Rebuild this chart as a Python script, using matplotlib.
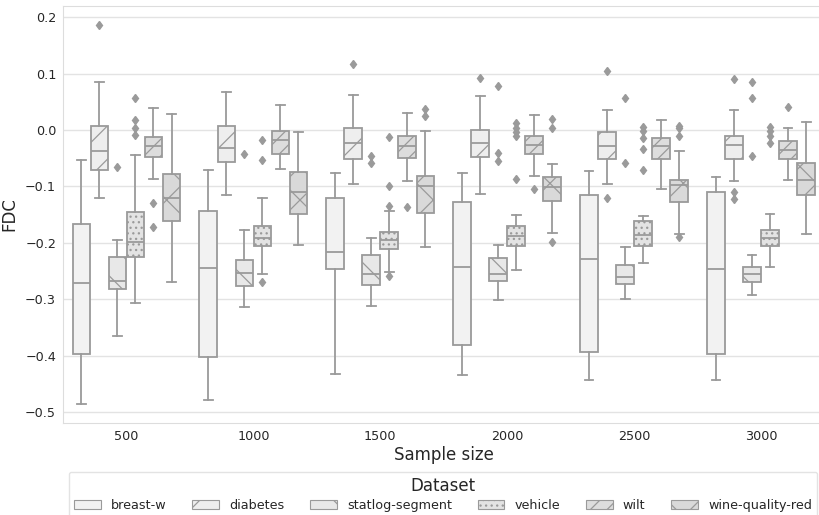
import numpy as np
import matplotlib
matplotlib.use("Agg")
import matplotlib.pyplot as plt
from matplotlib.patches import Patch
from matplotlib.ticker import MultipleLocator

# Box statistics, one row per sample size:
# whisker low, Q1, median, Q3, whisker high
sizes = [500, 1000, 1500, 2000, 2500, 3000]
datasets = ["breast-w", "diabetes", "statlog-segment", "vehicle", "wilt", "wine-quality-red"]

breast_w = [
    [-0.486, -0.397, -0.271, -0.166, -0.053],
    [-0.478, -0.402, -0.244, -0.143, -0.071],
    [-0.432, -0.247, -0.216, -0.120, -0.077],
    [-0.434, -0.381, -0.243, -0.128, -0.077],
    [-0.444, -0.393, -0.228, -0.115, -0.073],
    [-0.443, -0.397, -0.246, -0.109, -0.084],
]
breast_w_out = [[], [], [], [], [], []]

diabetes = [
    [-0.120, -0.071, -0.037, 0.007, 0.085],
    [-0.115, -0.057, -0.032, 0.007, 0.068],
    [-0.095, -0.052, -0.023, 0.003, 0.063],
    [-0.114, -0.047, -0.023, 0.000, 0.060],
    [-0.095, -0.051, -0.029, -0.004, 0.036],
    [-0.091, -0.051, -0.027, -0.010, 0.035],
]
diabetes_out = [[0.186], [], [0.117], [0.093], [0.105, -0.121], [0.090, -0.110, -0.122]]

statlog = [
    [-0.365, -0.282, -0.267, -0.225, -0.195],
    [-0.314, -0.276, -0.254, -0.231, -0.177],
    [-0.312, -0.275, -0.255, -0.221, -0.191],
    [-0.302, -0.267, -0.255, -0.227, -0.203],
    [-0.300, -0.273, -0.260, -0.239, -0.208],
    [-0.293, -0.270, -0.255, -0.243, -0.221],
]
statlog_out = [[-0.066], [-0.043], [-0.046, -0.059], [0.079, -0.041, -0.055],
               [0.057, -0.059], [0.085, 0.057, -0.046]]

vehicle = [
    [-0.307, -0.225, -0.198, -0.146, -0.045],
    [-0.255, -0.205, -0.192, -0.170, -0.120],
    [-0.251, -0.211, -0.195, -0.180, -0.143],
    [-0.249, -0.206, -0.187, -0.170, -0.150],
    [-0.235, -0.205, -0.186, -0.161, -0.153],
    [-0.243, -0.206, -0.191, -0.177, -0.149],
]
vehicle_out = [[0.057, 0.018, 0.004, -0.009], [-0.017, -0.053, -0.270],
               [-0.012, -0.100, -0.134, -0.258], [0.012, 0.004, -0.004, -0.011, -0.086],
               [0.005, -0.001, -0.014, -0.033, -0.071], [0.006, -0.001, -0.010, -0.023]]

wilt = [
    [-0.087, -0.048, -0.029, -0.012, 0.040],
    [-0.069, -0.042, -0.017, -0.001, 0.045],
    [-0.090, -0.049, -0.029, -0.011, 0.031],
    [-0.082, -0.042, -0.027, -0.011, 0.026],
    [-0.104, -0.052, -0.029, -0.014, 0.017],
    [-0.089, -0.052, -0.035, -0.019, 0.003],
]
wilt_out = [[-0.130, -0.172], [], [-0.136], [-0.104], [], [0.041]]

wine = [
    [-0.270, -0.161, -0.121, -0.078, 0.029],
    [-0.203, -0.149, -0.110, -0.074, -0.004],
    [-0.208, -0.147, -0.100, -0.081, -0.002],
    [-0.182, -0.126, -0.101, -0.084, -0.061],
    [-0.185, -0.128, -0.098, -0.088, -0.037],
    [-0.185, -0.115, -0.088, -0.059, 0.015],
]
wine_out = [[], [], [0.037, 0.025], [0.020, 0.003, -0.199], [0.007, 0.003, -0.010, -0.190], []]

all_stats = [breast_w, diabetes, statlog, vehicle, wilt, wine]
all_out = [breast_w_out, diabetes_out, statlog_out, vehicle_out, wilt_out, wine_out]

colors = ["#f2f2f2", "#eeeeee", "#e8e8e8", "#e3e3e3", "#dddddd", "#d9d9d9"]
hatches = ["", "/", "\\", "...", "//", "x"]
gray = "#9a9a9a"

plt.rcParams["hatch.linewidth"] = 0.9

fig = plt.figure(figsize=(8.2, 5.15), dpi=100)
ax = fig.add_axes([63 / 820, 1 - 423 / 515, (824.5 - 63) / 820, (423 - 6) / 515])

step = 0.142
for j in range(len(datasets)):
    stats = []
    for i in range(len(sizes)):
        lo, q1, med, q3, hi = all_stats[j][i]
        stats.append(dict(whislo=lo, q1=q1, med=med, q3=q3, whishi=hi, fliers=all_out[j][i]))
    pos = np.arange(len(sizes)) + (j - 2.5) * step
    bp = ax.bxp(stats, positions=pos, widths=step * 0.98, patch_artist=True,
                manage_ticks=False,
                boxprops=dict(facecolor=colors[j], edgecolor=gray, linewidth=1.3, hatch=hatches[j]),
                whiskerprops=dict(color=gray, linewidth=1.3),
                capprops=dict(color=gray, linewidth=1.3),
                medianprops=dict(color=gray, linewidth=1.3),
                flierprops=dict(marker="d", markerfacecolor=gray, markeredgecolor=gray,
                                markersize=4.5, linestyle="none"))

ax.set_xlim(-0.5, 5.5)
ax.set_ylim(-0.5195, 0.220)
ax.set_xticks(range(len(sizes)))
ax.set_xticklabels([str(s) for s in sizes])
ax.yaxis.set_major_locator(MultipleLocator(0.1))
ax.tick_params(length=0, labelsize=9.2, colors="#262626", pad=5)
ax.yaxis.grid(True, color="#e3e3e3", linewidth=1)
ax.set_axisbelow(True)
for sp in ax.spines.values():
    sp.set_color("#dddddd")
ax.set_xlabel("Sample size", fontsize=12, color="#262626", labelpad=2)
ax.set_ylabel("FDC", fontsize=12, color="#262626", labelpad=5)

handles = [Patch(facecolor=colors[j], edgecolor=gray, hatch=hatches[j], linewidth=0.8,
                 label=datasets[j]) for j in range(len(datasets))]
leg = fig.legend(handles=handles, loc="upper center", bbox_to_anchor=(443 / 820, 1 - 471.7 / 515),
                 ncol=6, title="Dataset", fontsize=9.2, title_fontsize=12, frameon=True,
                 borderaxespad=0, columnspacing=2.0, handletextpad=0.8, handlelength=2.1,
                 labelspacing=0.3)
leg.get_frame().set_edgecolor("#dddddd")
leg.get_title().set_color("#262626")
for t in leg.get_texts():
    t.set_color("#262626")

fig.savefig("out.png", dpi=100)
